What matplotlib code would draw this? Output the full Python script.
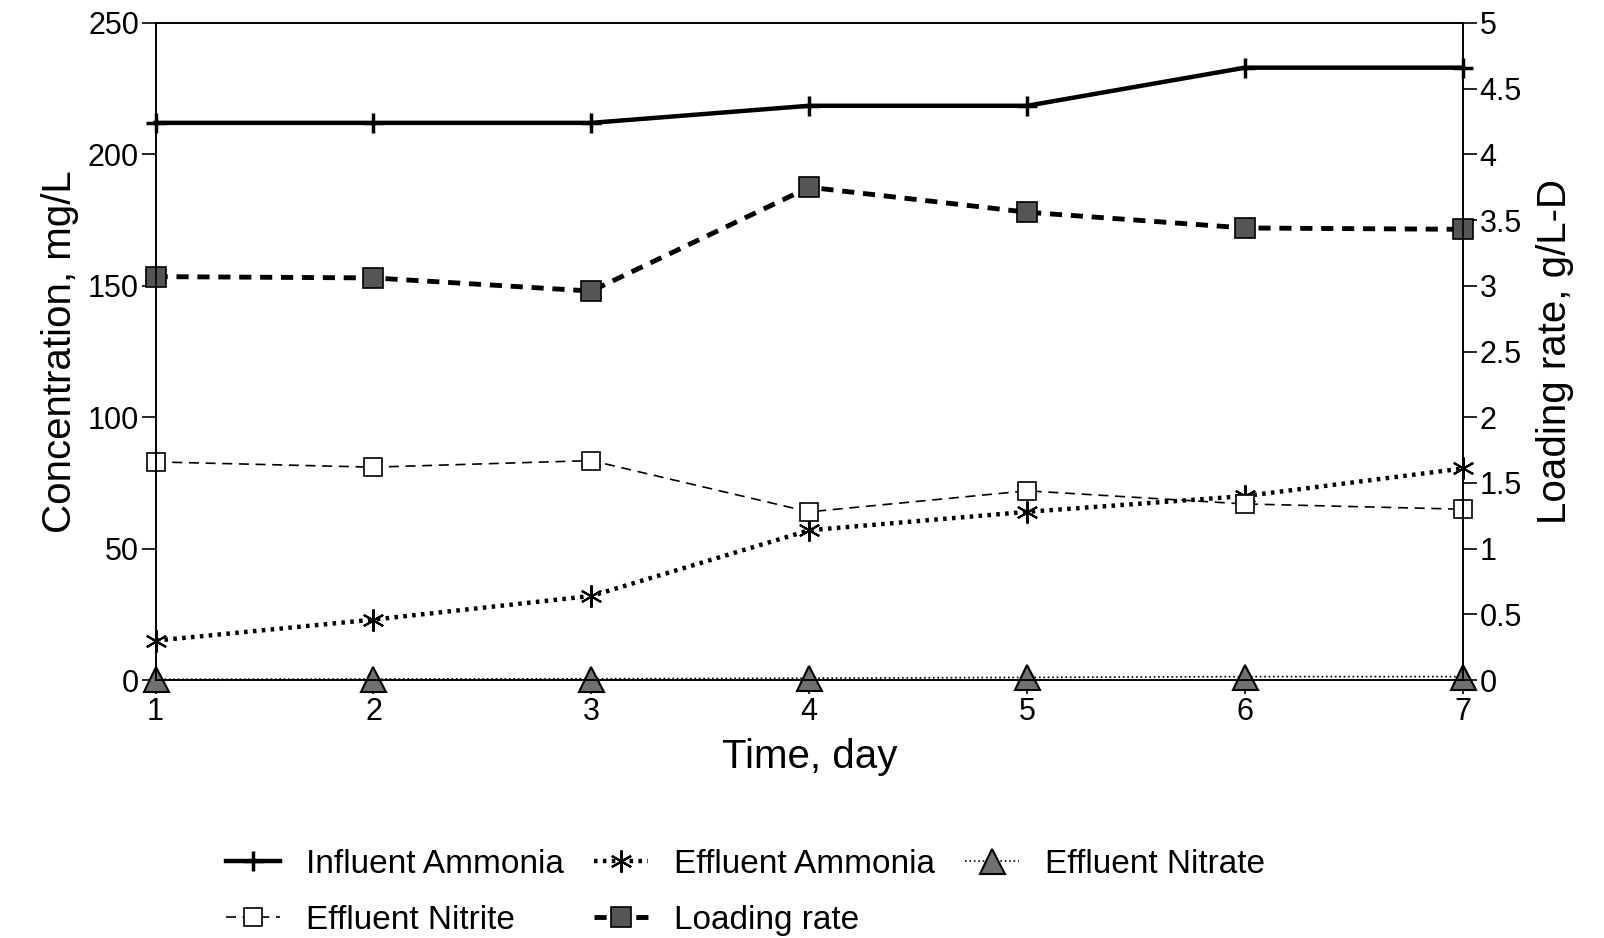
import matplotlib.pyplot as plt

plt.rcParams['font.family'] = ['Liberation Sans', 'DejaVu Sans']

# Data
days = [1, 2, 3, 4, 5, 6, 7]
influent_ammonia = [212, 212, 212, 218.5, 218.5, 233, 233]
effluent_ammonia = [15, 23, 32, 57, 64, 70, 80.5]
effluent_nitrate = [0.3, 0.4, 0.5, 0.7, 1.0, 1.3, 1.3]
effluent_nitrite = [83, 81, 83.5, 64, 72, 67, 65]
loading_rate = [3.07, 3.06, 2.96, 3.75, 3.56, 3.44, 3.43]

conc_ticks = [0, 50, 100, 150, 200, 250]
rate_ticks = [0, 0.5, 1, 1.5, 2, 2.5, 3, 3.5, 4, 4.5, 5]
rate_labels = ["0", "0.5", "1", "1.5", "2", "2.5", "3", "3.5", "4", "4.5", "5"]

fig = plt.figure(figsize=(16.04, 9.38), dpi=100)
ax = fig.add_axes([0.097, 0.275, 0.815, 0.7005])
ax2 = ax.twinx()

l1, = ax.plot(days, influent_ammonia, color="black", lw=3.2, marker="+",
              ms=14, mew=2.5, clip_on=False, label="Influent Ammonia")
l2, = ax.plot(days, effluent_ammonia, color="black", lw=3.2, ls=(0, (0.8, 1.2)),
              marker=(6, 2, 0), ms=16, mew=1.5, clip_on=False, label="Effluent Ammonia")
l3, = ax.plot(days, effluent_nitrate, color="black", lw=1.2, ls=":",
              marker="^", ms=18, mfc="#707070", mec="black", mew=1.5,
              clip_on=False, label="Effluent Nitrate")
l4, = ax.plot(days, effluent_nitrite, color="black", lw=1.2, ls=(0, (6, 4)),
              marker="s", ms=13, mfc="white", mec="black", mew=1.2,
              clip_on=False, label="Effluent Nitrite")
l5, = ax2.plot(days, loading_rate, color="black", lw=3.5, ls=(0, (2.5, 1.8)),
               marker="s", ms=15, mfc="#555555", mec="black", mew=1.2,
               clip_on=False, label="Loading rate")

ax.set_xlim(1, 7)
ax.set_ylim(0, 250)
ax2.set_ylim(0, 5)
ax.set_xticks(days)
ax.set_yticks(conc_ticks)
ax2.set_yticks(rate_ticks)
ax2.set_yticklabels(rate_labels)

for a in (ax, ax2):
    a.tick_params(direction="out", length=10, width=1.2, labelsize=22, pad=2)
    for s in a.spines.values():
        s.set_linewidth(1.2)

ax.set_xlabel("Time, day", fontsize=29, labelpad=8)
ax.set_ylabel("Concentration, mg/L", fontsize=29, labelpad=6)
ax2.set_ylabel("Loading rate, g/L-D", fontsize=29, labelpad=10)

# legend ordered so rows read: IA, EA, EN / ENi, LR
fig.legend([l1, l4, l2, l5, l3],
           [h.get_label() for h in [l1, l4, l2, l5, l3]],
           loc="lower center", bbox_to_anchor=(0.465, -0.03), ncol=3,
           frameon=False, fontsize=24, handlelength=1.6, columnspacing=0.9,
           handletextpad=0.8, labelspacing=0.75)

plt.savefig("out.png", dpi=100)
